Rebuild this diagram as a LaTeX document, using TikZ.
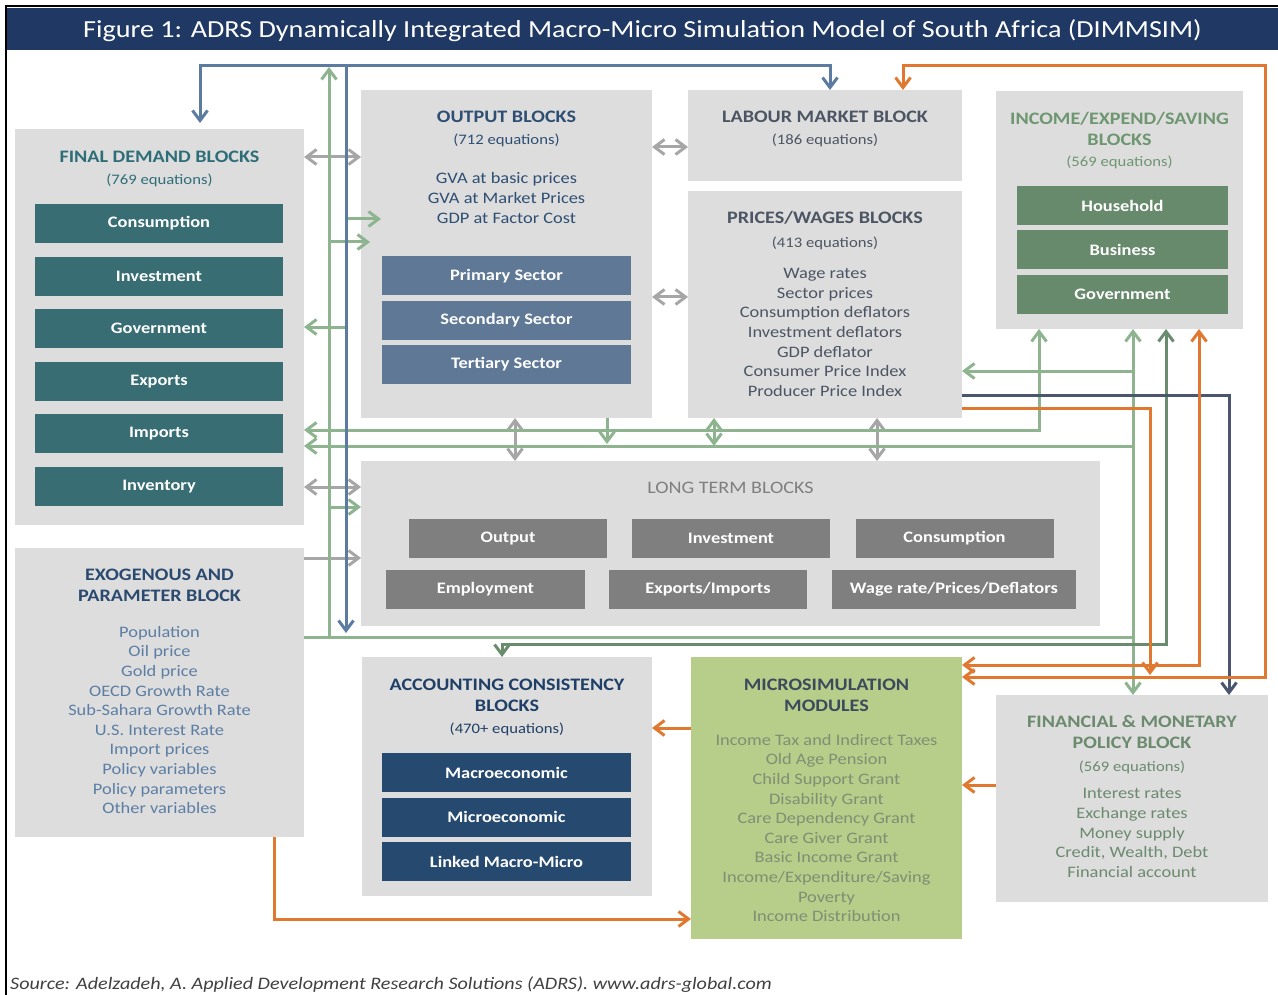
\documentclass[tikz,border=0pt]{standalone}
\usepackage{fontspec}
\setmainfont{Carlito}[FakeStretch=1.15]
\usetikzlibrary{arrows.meta}

\definecolor{barnavy}{RGB}{31,56,100}
\definecolor{boxgray}{RGB}{221,221,221}
\definecolor{fdtxt}{RGB}{46,110,120}
\definecolor{fdsub}{RGB}{55,109,115}
\definecolor{outtxt}{RGB}{46,78,115}
\definecolor{outsub}{RGB}{94,120,150}
\definecolor{slatetxt}{RGB}{75,85,99}
\definecolor{inctxt}{RGB}{110,150,112}
\definecolor{incsub}{RGB}{104,138,108}
\definecolor{ltsub}{RGB}{127,127,127}
\definecolor{acctxt}{RGB}{31,63,102}
\definecolor{accsub}{RGB}{38,73,112}
\definecolor{exotxt}{RGB}{43,74,111}
\definecolor{exoitem}{RGB}{92,126,165}
\definecolor{micfill}{RGB}{182,206,138}
\definecolor{mictxt}{RGB}{62,74,92}
\definecolor{micitem}{RGB}{128,142,116}
\definecolor{fintxt}{RGB}{107,138,110}
\definecolor{blu}{RGB}{91,123,160}
\definecolor{lgrn}{RGB}{141,180,142}
\definecolor{dgrn}{RGB}{106,140,110}
\definecolor{orng}{RGB}{224,120,48}
\definecolor{gry}{RGB}{166,166,166}
\definecolor{navln}{RGB}{74,86,112}

\begin{document}
\begin{tikzpicture}[
x=1pt, y=-1pt,
blk/.style={
  draw=none,
  fill=boxgray,
  anchor=north west,
  inner sep=0pt,
  outer sep=0pt
  },
sub/.style={
  fill=#1,
  text=white,
  minimum height=39,
  inner sep=0pt,
  outer sep=0pt,
  font=\fontsize{16}{19}\selectfont\bfseries
  },
hd/.style={
  text=#1,
  align=center,
  inner sep=0pt,
  font=\fontsize{17.5}{21}\selectfont\bfseries
  },
eq/.style={
  text=#1,
  inner sep=0pt,
  font=\fontsize{14.5}{17}\selectfont
  },
items/.style={
  text=#1,
  align=center,
  inner sep=0pt,
  font=\fontsize{16}{19.6}\selectfont
  },
link/.style={
  draw=#1,
  line width=3pt
  },
>={Straight Barb[length=10pt,width=15pt]}
]

\useasboundingbox (0,0) rectangle (1278,995);

% frame and heading bar
\draw[line width=2pt] (6,995) -- (6,6) -- (1278,6);
\node[blk, fill=barnavy, minimum width=1271, minimum height=42] (bar) at (7,8) {};
\node[text=white, inner sep=0pt, font=\fontsize{24.5}{28}\selectfont] (bar-t) at ([yshift=-2pt]bar.center)
  {Figure 1: ADRS Dynamically Integrated Macro-Micro Simulation Model of South Africa (DIMMSIM)};

% blocks
\node[blk, minimum width=289, minimum height=396] (fd)  at (15,129) {};
\node[blk, minimum width=289, minimum height=289] (exo) at (15,548) {};
\node[blk, minimum width=291, minimum height=328] (out) at (361,90) {};
\node[blk, minimum width=274, minimum height=91]  (lab) at (688,90) {};
\node[blk, minimum width=274, minimum height=227] (pw)  at (688,191) {};
\node[blk, minimum width=247, minimum height=238] (inc) at (996,91) {};
\node[blk, minimum width=739, minimum height=165] (lt)  at (361,461) {};
\node[blk, minimum width=290, minimum height=239] (acc) at (362,657) {};
\node[blk, fill=micfill, minimum width=271, minimum height=282] (mic) at (691,657) {};
\node[blk, minimum width=272, minimum height=207] (fin) at (996,695) {};

% final demand
\node[hd=fdtxt] (fd-hd) at (159.5,157) {FINAL DEMAND BLOCKS};
\node[eq=fdtxt] (fd-eq) at (159.5,180) {(769 equations)};
\foreach \lbl [count=\i] in {Consumption,Investment,Government,Exports,Imports,Inventory}
  \node[sub=fdsub, minimum width=248] (fd-\i) at (159, {223.5+52.6*(\i-1)}) {\lbl};

% exogenous
\node[hd=exotxt] (exo-hd) at (159.5,585.5) {EXOGENOUS AND\\PARAMETER BLOCK};
\node[items=exoitem] (exo-it) at (159.5,720) {Population\\Oil price\\Gold price\\OECD Growth Rate\\Sub-Sahara Growth Rate\\U.S. Interest Rate\\Import prices\\Policy variables\\Policy parameters\\Other variables};

% output
\node[hd=outtxt] (out-hd) at (506.5,117) {OUTPUT BLOCKS};
\node[eq=outtxt] (out-eq) at (506.5,140) {(712 equations)};
\node[items=outtxt] (out-it) at (506.5,198) {GVA at basic prices\\GVA at Market Prices\\GDP at Factor Cost};
\foreach \lbl [count=\i] in {Primary Sector,Secondary Sector,Tertiary Sector}
  \node[sub=outsub, minimum width=249] (out-\i) at (506.5, {276+44.3*(\i-1)}) {\lbl};

% labour market, prices and wages
\node[hd=slatetxt] (lab-hd) at (825,117) {LABOUR MARKET BLOCK};
\node[eq=slatetxt] (lab-eq) at (825,140) {(186 equations)};
\node[hd=slatetxt] (pw-hd) at (825,218) {PRICES/WAGES BLOCKS};
\node[eq=slatetxt] (pw-eq) at (825,243) {(413 equations)};
\node[items=slatetxt] (pw-it) at (825,332.5) {Wage rates\\Sector prices\\Consumption deflators\\Investment deflators\\GDP deflator\\Consumer Price Index\\Producer Price Index};

% income, expenditure and saving
\node[hd=inctxt] (inc-hd) at (1119.5,129) {INCOME/EXPEND/SAVING\\BLOCKS};
\node[eq=inctxt] (inc-eq) at (1119.5,162) {(569 equations)};
\foreach \lbl [count=\i] in {Household,Business,Government}
  \node[sub=incsub, minimum width=211] (inc-\i) at (1122.5, {205.5+44.5*(\i-1)}) {\lbl};

% long term
\node[text=ltsub, inner sep=0pt, font=\fontsize{17.5}{21}\selectfont] (lt-hd) at (730.5,488) {LONG TERM BLOCKS};
\node[sub=ltsub, minimum width=198] (lt-1) at (508,538.5) {Output};
\node[sub=ltsub, minimum width=198] (lt-2) at (731,538.5) {Investment};
\node[sub=ltsub, minimum width=198] (lt-3) at (954.5,538.5) {Consumption};
\node[sub=ltsub, minimum width=199] (lt-4) at (485.5,589) {Employment};
\node[sub=ltsub, minimum width=198] (lt-5) at (708,589) {Exports/Imports};
\node[sub=ltsub, minimum width=244] (lt-6) at (954,589) {Wage rate/Prices/Deflators};

% accounting consistency
\node[hd=acctxt] (acc-hd) at (507,695) {ACCOUNTING CONSISTENCY\\BLOCKS};
\node[eq=acctxt] (acc-eq) at (507,729) {(470+ equations)};
\foreach \lbl [count=\i] in {Macroeconomic,Microeconomic,Linked Macro-Micro}
  \node[sub=accsub, minimum width=249] (acc-\i) at (506.5, {772.5+44.5*(\i-1)}) {\lbl};

% microsimulation
\node[hd=mictxt] (mic-hd) at (826.5,695.5) {MICROSIMULATION\\MODULES};
\node[items=micitem] (mic-it) at (826.5,828) {Income Tax and Indirect Taxes\\Old Age Pension\\Child Support Grant\\Disability Grant\\Care Dependency Grant\\Care Giver Grant\\Basic Income Grant\\Income/Expenditure/Saving\\Poverty\\Income Distribution};

% financial and monetary
\node[hd=fintxt] (fin-hd) at (1132,732) {FINANCIAL \& MONETARY\\POLICY BLOCK};
\node[eq=fintxt] (fin-eq) at (1132,767) {(569 equations)};
\node[items=fintxt] (fin-it) at (1132,833) {Interest rates\\Exchange rates\\Money supply\\Credit, Wealth, Debt\\Financial account};

% source line
\node[anchor=west, inner sep=0pt, text=black!75, font=\fontsize{17.5}{20}\selectfont\itshape] (src) at (10,985)
  {Source: Adelzadeh, A. Applied Development Research Solutions (ADRS). www.adrs-global.com};

% bus corners
\coordinate (bluL) at (200,66);
\coordinate (bluR) at (830,66);
\coordinate (bluV) at (346,66);
\coordinate (bluB) at (346,633);
\coordinate (grnT) at (329,67);
\coordinate (grnB) at (329,637);
\coordinate (grnR) at (1133,637);
\coordinate (grnM) at (1039,430);
\coordinate (dgrL) at (502,644);
\coordinate (dgrR) at (1166,644);
\coordinate (navR) at (1229,395);
\coordinate (orP)  at (1150,408);
\coordinate (orI)  at (1199,665);
\coordinate (orL)  at (903,66);
\coordinate (orR)  at (1265,66);
\coordinate (orX)  at (274,919);

% gray links
\draw[link=gry,<->] (fd.east |- 0,157) -- (out.west |- 0,157);
\draw[link=gry,<->] (out.east |- 0,147) -- (lab.west |- 0,147);
\draw[link=gry,<->] (out.east |- 0,297) -- (pw.west |- 0,297);
\draw[link=gry,<->] (fd.east |- 0,487) -- (lt.west |- 0,487);
\draw[link=gry,->] (exo.east |- 0,558) -- (lt.west |- 0,558);
\draw[link=gry,<->] (out.south -| 515,0) -- (lt.north -| 515,0);
\draw[link=gry,<->] (pw.south -| 877,0) -- (lt.north -| 877,0);

% light green links
\draw[link=lgrn] (exo.east |- grnB) -- (grnR);
\draw[link=lgrn,->] (grnB) -- (grnT);
\draw[link=lgrn,<->] (inc.south -| grnR) -- (fin.north -| grnR);
\draw[link=lgrn,->] (grnR |- 0,371) -- (pw.east |- 0,371);
\draw[link=lgrn,->] (grnR |- 0,446) -- (fd.east |- 0,446);
\draw[link=lgrn,<->] (fd.east |- grnM) -- (grnM) -- (inc.south -| grnM);
\draw[link=lgrn,->] (out.south -| 607,0) -- (607,444);
\draw[link=lgrn,<->] (pw.south -| 714,0) -- (714,446);
\draw[link=lgrn,->] (grnB |- 0,242) -- (370,242);
\draw[link=lgrn,->] (bluV |- 0,219) -- (381,219);
\draw[link=lgrn,->] (bluV |- 0,327) -- (fd.east |- 0,327);
\draw[link=lgrn,->] (grnB |- 0,507) -- (lt.west |- 0,507);

% dark green link
\draw[link=dgrn,<->] (acc.north -| dgrL) -- (dgrL) -- (dgrR) -- (inc.south -| dgrR);

% blue feed
\draw[link=blu,<->, shorten <=6pt] (bluL |- fd.north) -- (bluL) -- (bluR) -- (bluR |- lab.north);
\draw[link=blu,->] (bluV) -- (bluB);

% navy link
\draw[link=navln,->] (pw.east |- navR) -- (navR) -- (fin.north -| navR);

% orange links
\draw[link=orng,->] (pw.east |- orP) -- (orP) -- (1150,675);
\draw[link=orng,<->] (mic.east |- orI) -- (orI) -- (inc.south -| orI);
\draw[link=orng,<->] (lab.north -| orL) -- (orL) -- (orR) -- (orR |- 0,677) -- (mic.east |- 0,677);
\draw[link=orng,->] (exo.south -| orX) -- (orX) -- (mic.west |- orX);
\draw[link=orng,->] (mic.west |- 0,728) -- (acc.east |- 0,728);
\draw[link=orng,->] (fin.west |- 0,785) -- (mic.east |- 0,785);

\end{tikzpicture}
\end{document}
